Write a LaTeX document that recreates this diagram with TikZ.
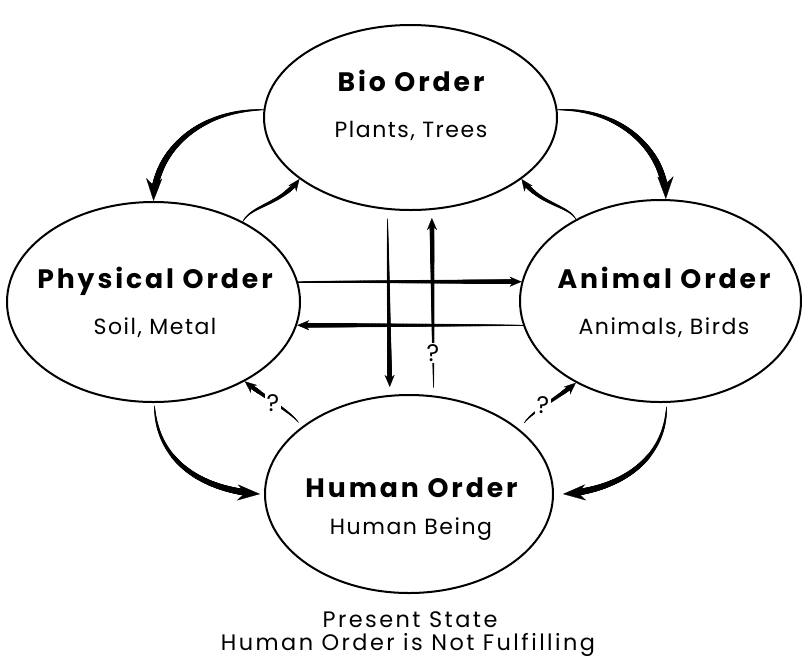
\documentclass[tikz,border=0pt]{standalone}
\usepackage{fontspec}
\setmainfont{Poppins}
\usetikzlibrary{arrows.meta,decorations.markings,calc,shapes.geometric}

\tikzset{
  order/.style n args={2}{ellipse, draw, line width=1.5pt, inner sep=0pt,
    minimum width=#1, minimum height=#2},
  title/.style={anchor=base, font=\fontsize{20}{24}\selectfont\bfseries\addfontfeatures{LetterSpace=11}},
  sub/.style={anchor=base, font=\fontsize{16.5}{20}\selectfont\addfontfeatures{LetterSpace=7}},
  caption/.style={anchor=base, font=\fontsize{16.8}{20}\selectfont\addfontfeatures{LetterSpace=11}},
  query/.style={fill=white, inner sep=1pt, font=\fontsize{18}{20}\selectfont},
  % a stroke that swells from #1 to #2 (radius, pt) and stops #3 before the end
  brush/.style n args={3}{
    postaction={decorate, decoration={markings,
      mark=between positions 0 and -#3 step 0.35pt with {%
        \pgfmathsetmacro\brushr{#1+(#2-#1)*(0.001+\pgfkeysvalueof{/pgf/decoration/mark info/distance from start}/\pgfdecoratedpathlength)^0.6}%
        \fill (0pt,0pt) circle[radius=\brushr pt];}}}},
  bigarrow/.style={line width=0.2pt, -{Stealth[length=17pt, width=12pt, inset=5.5pt]},
    brush={0.2}{2.6}{9.5pt}},
  smallarrow/.style={line width=0.2pt, -{Stealth[length=9pt, width=7.5pt, inset=2.9pt]},
    brush={0.2}{1.75}{5.5pt}},
}

\begin{document}
\begin{tikzpicture}[x=0.75pt, y=-0.75pt]
  \useasboundingbox (0,0) rectangle (802,661);

  % the four orders
  \node[order={219.75pt}{138.75pt}] (bio)  at (410.5,117.5) {};
  \node[order={219.75pt}{150pt}]    (phys) at (153.5,302) {};
  \node[order={210.75pt}{151.5pt}]  (anim) at (660.5,301) {};
  \node[order={216pt}{148.5pt}]     (hum)  at (409,494) {};

  \node[title] (biot)  at (411,91)  {Bio Order};
  \node[sub]   (bios)  at (411,137) {Plants, Trees};
  \node[title] (physt) at (155,288) {Physical Order};
  \node[sub]   (physs) at (155,334) {Soil, Metal};
  \node[title] (animt) at (664,288) {Animal Order};
  \node[sub]   (anims) at (664,334) {Animals, Birds};
  \node[title] (humt)  at (411.5,497) {Human Order};
  \node[sub]   (hums)  at (411,534) {Human Being};

  \node[caption] (cap1) at (410,627) {Present State};
  \node[caption] (cap2) at (408,650) {Human Order is Not Fulfilling};

  % endpoints that sit a little off the outlines
  \coordinate (vl1) at ($(bio.256.7)+(0,9)$);
  \coordinate (vl2) at ($(hum.101.5)+(0,-8)$);
  \coordinate (vr1) at ($(hum.76.2)+(0,-8)$);
  \coordinate (vr2) at ($(bio.283.9)+(0,8)$);
  \coordinate (hp1) at ($(hum.147)+(-5,-3)$);
  \coordinate (ha1) at ($(hum.32)+(8,-4)$);
  \coordinate (ph1) at ($(phys.270)+(1,3)$);
  \coordinate (ph2) at ($(hum.180)+(-4,0)$);
  \coordinate (ah1) at ($(anim.270)+(6,4)$);
  \coordinate (ah2) at ($(hum.0)+(9,0)$);

  % curved flows around the ring
  \draw[bigarrow] (bio.177) .. controls (200,110) and (155,150) .. (phys.90);
  \draw[smallarrow] (phys.42) .. controls (252,205) and (280,205) .. (bio.209);
  \draw[bigarrow] (bio.3) .. controls (620,108) and (665,150) .. (anim.87);
  \draw[smallarrow] (anim.136.5) .. controls (568,205) and (540,205) .. (bio.331);
  \draw[bigarrow] (ph1) .. controls (157,460) and (200,490) .. (ph2);
  \draw[bigarrow] (ah1) .. controls (665,460) and (620,490) .. (ah2);
  \draw[smallarrow] (hp1) .. controls (291,412) and (260,394) .. (phys.319);
  \draw[smallarrow] (ha1) .. controls (530,413) and (562,395) .. (anim.224);

  % straight cross-flows
  \draw[smallarrow] (phys.8) -- (phys.8 -| anim.172);
  \draw[smallarrow] (anim.190) -- (anim.190 -| phys.351);
  \draw[smallarrow] (vl1) -- (vl2);
  \draw[smallarrow] (vr1) -- (vr2);

  % open questions
  \node[query] (q1) at (433,353) {?};
  \node[query] (q2) at (273,403) {?};
  \node[query] (q3) at (543,405) {?};
\end{tikzpicture}
\end{document}
